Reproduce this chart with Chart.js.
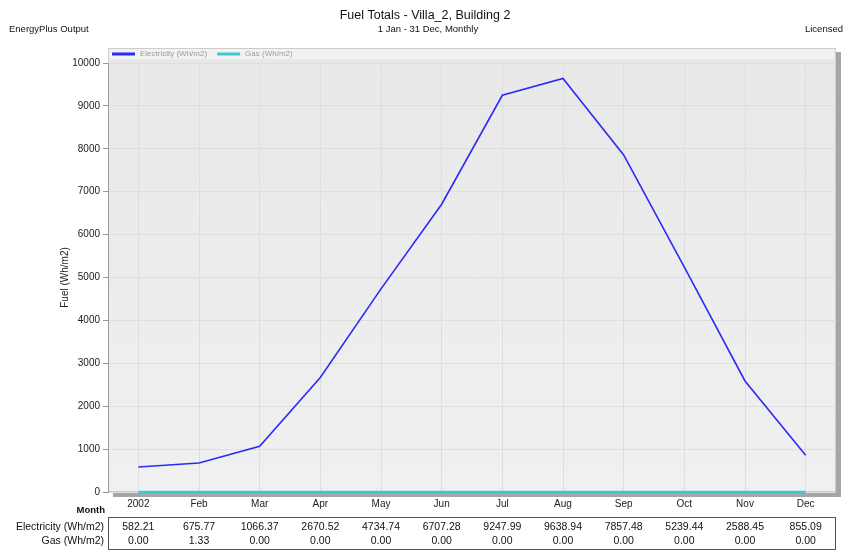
<!DOCTYPE html>
<html>
<head>
<meta charset="utf-8">
<script src="https://cdn.jsdelivr.net/npm/chart.js@4/dist/chart.umd.min.js"></script>
<style>
  html, body { margin: 0; padding: 0; background: #fff; }
  #wrap { width: 845px; height: 551px; position: relative; }
</style>
</head>
<body>
<div id="wrap"><canvas id="fuelChart" width="845" height="551"></canvas></div>
<script>
var months = ['2002', 'Feb', 'Mar', 'Apr', 'May', 'Jun', 'Jul', 'Aug', 'Sep', 'Oct', 'Nov', 'Dec'];
var electricity = [582.21, 675.77, 1066.37, 2670.52, 4734.74, 6707.28, 9247.99, 9638.94, 7857.48, 5239.44, 2588.45, 855.09];
var gas = [0.00, 1.33, 0.00, 0.00, 0.00, 0.00, 0.00, 0.00, 0.00, 0.00, 0.00, 0.00];
var seriesNames = ['Electricity (Wh/m2)', 'Gas (Wh/m2)'];
var yTicks = [0, 1000, 2000, 3000, 4000, 5000, 6000, 7000, 8000, 9000, 10000];

var FONT = '"Liberation Sans", Arial, sans-serif';
Chart.defaults.font.family = FONT;
Chart.defaults.color = '#222';

// plot background, shadow, legend strip, headings and the data table underneath
var decor = {
  id: 'decor',
  beforeDraw: function (chart) {
    var ctx = chart.ctx;
    var a = chart.chartArea;
    var top = a.top - 15;
    ctx.save();
    // shadow
    ctx.fillStyle = '#a6a6a6';
    ctx.fillRect(a.right, top + 4, 5, a.bottom - top + 1);
    ctx.fillRect(a.left + 5, a.bottom, a.right - a.left, 5);
    // background
    var g = ctx.createLinearGradient(0, top, 0, a.bottom);
    g.addColorStop(0, '#e8e8e8');
    g.addColorStop(1, '#f0f0f0');
    ctx.fillStyle = g;
    ctx.fillRect(a.left, top, a.right - a.left, a.bottom - top);
    ctx.strokeStyle = '#cccccc';
    ctx.lineWidth = 1;
    ctx.strokeRect(a.left + 0.5, top + 0.5, a.right - a.left - 1, a.bottom - top - 1);
    ctx.restore();
  },
  afterDraw: function (chart) {
    var ctx = chart.ctx;
    var a = chart.chartArea;
    var xs = chart.scales.x;
    var top = a.top - 15;
    ctx.save();

    // legend strip
    ctx.fillStyle = '#f2f2f2';
    ctx.fillRect(a.left + 1, top + 1, a.right - a.left - 2, 10);
    var lx = a.left + 4;
    chart.data.datasets.forEach(function (ds) {
      ctx.strokeStyle = ds.borderColor;
      ctx.lineWidth = 3;
      ctx.beginPath();
      ctx.moveTo(lx, top + 6);
      ctx.lineTo(lx + 23, top + 6);
      ctx.stroke();
      ctx.font = '8px ' + FONT;
      ctx.fillStyle = '#9a9a9a';
      ctx.textBaseline = 'middle';
      ctx.textAlign = 'left';
      ctx.fillText(ds.label, lx + 28, top + 6);
      lx += 28 + ctx.measureText(ds.label).width + 10;
    });

    // headings
    ctx.fillStyle = '#111';
    ctx.textBaseline = 'middle';
    ctx.textAlign = 'center';
    ctx.font = '12.5px ' + FONT;
    ctx.fillText('Fuel Totals - Villa_2, Building 2', 425, 16);
    ctx.font = '9.5px ' + FONT;
    ctx.fillText('1 Jan - 31 Dec, Monthly', 428, 29);
    ctx.textAlign = 'left';
    ctx.fillText('EnergyPlus Output', 9, 29);
    ctx.textAlign = 'right';
    ctx.fillText('Licensed', 843, 29);

    // x axis name
    ctx.font = 'bold 9.5px ' + FONT;
    ctx.fillText('Month', a.left - 3, 510);

    // table
    var tTop = 517, tBot = 549;
    ctx.strokeStyle = '#555';
    ctx.lineWidth = 1;
    ctx.strokeRect(a.left + 0.5, tTop + 0.5, a.right - a.left - 1, tBot - tTop);
    ctx.font = '10.5px ' + FONT;
    ctx.fillStyle = '#111';
    var rows = [electricity, gas];
    rows.forEach(function (vals, r) {
      var y = 527 + r * 14;
      ctx.textAlign = 'right';
      ctx.fillText(seriesNames[r], a.left - 4, y);
      ctx.textAlign = 'center';
      vals.forEach(function (v, i) {
        ctx.fillText(v.toFixed(2), xs.getPixelForValue(i), y);
      });
    });
    ctx.restore();
  }
};

new Chart(document.getElementById('fuelChart').getContext('2d'), {
  type: 'line',
  data: {
    labels: months,
    datasets: [{
      label: seriesNames[0],
      data: electricity,
      borderColor: '#2b2bf8',
      borderWidth: 1.6,
      pointRadius: 0,
      tension: 0,
      clip: false
    }, {
      label: seriesNames[1],
      data: gas,
      borderColor: '#3cc8c8',
      borderWidth: 2.5,
      pointRadius: 0,
      tension: 0,
      clip: false
    }]
  },
  options: {
    responsive: false,
    animation: false,
    devicePixelRatio: 1,
    layout: {
      padding: { left: 55, right: 9, top: 63, bottom: 38 }
    },
    plugins: {
      legend: { display: false },
      tooltip: { enabled: false }
    },
    scales: {
      x: {
        offset: true,
        afterFit: function (s) { s.height = 21; },
        grid: {
          color: '#dedede',
          tickLength: 0,
          drawTicks: false
        },
        border: { display: false },
        ticks: {
          padding: 6,
          color: '#222',
          maxRotation: 0,
          autoSkip: false,
          font: { size: 10 }
        }
      },
      y: {
        min: 0,
        max: 10000,
        afterFit: function (s) { s.width = 53; },
        afterBuildTicks: function (s) {
          s.ticks = yTicks.map(function (v) { return { value: v }; });
        },
        title: {
          display: true,
          text: 'Fuel (Wh/m2)',
          color: '#222',
          font: { size: 10 },
          padding: { top: 4, bottom: 0 }
        },
        grid: {
          color: '#dedede',
          tickLength: 5,
          tickColor: '#999'
        },
        border: { color: '#999' },
        ticks: {
          padding: 3,
          color: '#222',
          font: { size: 10 },
          callback: function (v) { return String(v); }
        }
      }
    }
  },
  plugins: [decor]
});
</script>
</body>
</html>
